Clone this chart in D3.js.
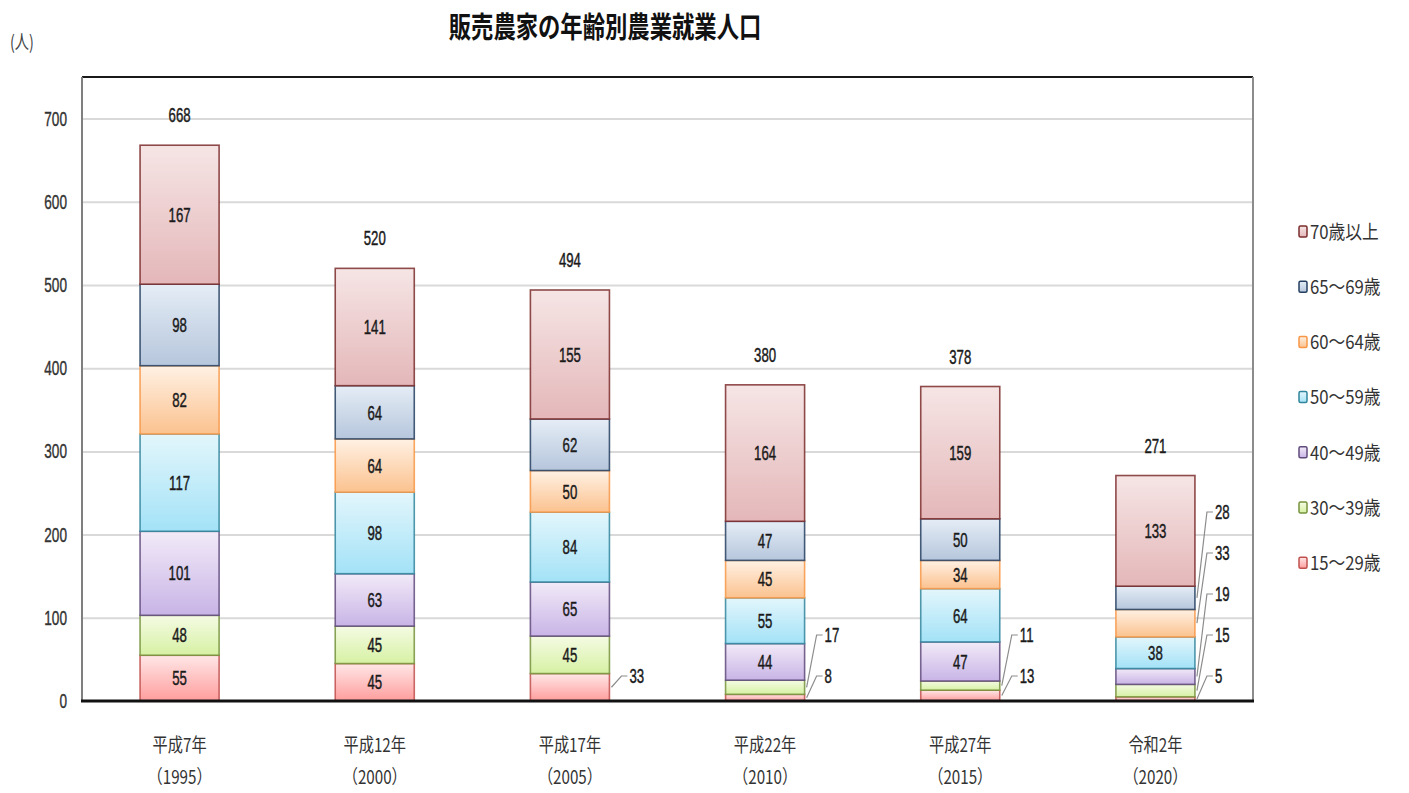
<!DOCTYPE html>
<html>
<head>
<meta charset="utf-8">
<script src="https://cdn.jsdelivr.net/npm/d3@7"></script>
<style>
  body { margin: 0; background: #fff; }
  text { font-family: "Liberation Sans", "Noto Sans CJK JP", sans-serif; }
  .jp { font-family: "Noto Sans CJK JP", sans-serif; }
  .num { stroke: #1a1a1a; stroke-width: 0.45; }
</style>
</head>
<body>
<div class="chart"></div>
<script>
var w = 1409;
var h = 793;

// data
const categories = ["平成7年", "平成12年", "平成17年", "平成22年", "平成27年", "令和2年"];
const yearLabels = ["（1995）", "（2000）", "（2005）", "（2010）", "（2015）", "（2020）"];
const ageGroups = ["15～29歳", "30～39歳", "40～49歳", "50～59歳", "60～64歳", "65～69歳", "70歳以上"];

const age15_29 = [55, 45, 33, 8, 13, 5];
const age30_39 = [48, 45, 45, 17, 11, 15];
const age40_49 = [101, 63, 65, 44, 47, 19];
const age50_59 = [117, 98, 84, 55, 64, 38];
const age60_64 = [82, 64, 50, 45, 34, 33];
const age65_69 = [98, 64, 62, 47, 50, 28];
const age70plus = [167, 141, 155, 164, 159, 133];

// which segments carry their label outside the bar (index into ageGroups)
const outsideLabels = [[], [], [0], [0, 1], [0, 1], [0, 1, 2, 4, 5]];

const yTicks = [0, 100, 200, 300, 400, 500, 600, 700];

const series = [age15_29, age30_39, age40_49, age50_59, age60_64, age65_69, age70plus];

// gradient top, gradient bottom, edge
const palette = [
  ["#ffe7e7", "#ff9d9d", "#c0504d"],
  ["#f5fbe4", "#d6f1a3", "#76923c"],
  ["#f2eaf8", "#c8b4e6", "#604a7b"],
  ["#e3f6fc", "#a3e2f7", "#31859c"],
  ["#fff1e4", "#fbc28f", "#f79646"],
  ["#e5edf6", "#b6c6dc", "#243f60"],
  ["#f6e5e5", "#e4b7b9", "#7b2c2c"]
];

const table = categories.map((c, i) => {
  const row = {cat: c};
  ageGroups.forEach((g, k) => { row[g] = series[k][i]; });
  return row;
});
const stacked = d3.stack().keys(ageGroups)(table);

const pLeft = 82, pRight = 1253, pTop = 77, pBottom = 701;

const svg = d3.select(".chart").append("svg")
  .attr("width", w)
  .attr("height", h);

const x = d3.scaleBand()
  .domain(categories)
  .range([pLeft, pRight])
  .paddingInner(0.595)
  .paddingOuter(0.2975);

const y = d3.scaleLinear()
  .domain([0, 750])
  .range([pBottom, pTop]);

// horizontally condensed text, like the original
function squish(sel, px, py, sx) {
  return sel.attr("transform", "translate(" + px + "," + py + ") scale(" + sx + ",1)");
}

const defs = svg.append("defs");
palette.forEach((p, k) => {
  const g = defs.append("linearGradient")
    .attr("id", "grad" + k)
    .attr("x1", 0).attr("y1", 0).attr("x2", 0).attr("y2", 1);
  g.append("stop").attr("offset", "0%").attr("stop-color", p[0]);
  g.append("stop").attr("offset", "100%").attr("stop-color", p[1]);
});

// title
squish(svg.append("text").attr("class", "jp"), 605, 38, 0.77)
  .attr("text-anchor", "middle")
  .attr("font-size", 29)
  .attr("font-weight", "bold")
  .attr("fill", "#111")
  .text("販売農家の年齢別農業就業人口");

squish(svg.append("text").attr("class", "jp"), 10, 49, 0.75)
  .attr("font-size", 19)
  .attr("fill", "#444")
  .text("(人)");

// gridlines
const grid = svg.append("g")
  .attr("transform", "translate(" + pLeft + ",0)")
  .call(d3.axisLeft(y).tickValues(yTicks.slice(1)).tickSize(-(pRight - pLeft)).tickFormat(""));
grid.select(".domain").remove();
grid.selectAll("line").attr("stroke", "#d9d9d9").attr("stroke-width", 2);

// frame
svg.append("line").attr("x1", pLeft).attr("x2", pRight).attr("y1", pTop).attr("y2", pTop)
  .attr("stroke", "#1a1a1a").attr("stroke-width", 2);
svg.append("line").attr("x1", pRight).attr("x2", pRight).attr("y1", pTop).attr("y2", pBottom)
  .attr("stroke", "#8c8c8c").attr("stroke-width", 2);
svg.append("line").attr("x1", pLeft).attr("x2", pLeft).attr("y1", pTop).attr("y2", pBottom)
  .attr("stroke", "#7f7f7f").attr("stroke-width", 2);

// y axis labels
const yAxis = svg.append("g")
  .attr("transform", "translate(" + pLeft + ",0)")
  .call(d3.axisLeft(y).tickValues(yTicks).tickSize(0));
yAxis.select(".domain").remove();
yAxis.selectAll("text")
  .attr("x", -15 / 0.68)
  .attr("transform", "scale(0.68,1)")
  .attr("font-size", 20)
  .attr("fill", "#333")
  .attr("stroke", "#333")
  .attr("stroke-width", 0.4);

// bars
const bars = svg.append("g");
stacked.forEach((layer, k) => {
  bars.selectAll(".seg" + k)
    .data(layer)
    .enter()
    .append("rect")
    .attr("class", "seg" + k)
    .attr("x", d => x(d.data.cat))
    .attr("y", d => y(d[1]))
    .attr("width", x.bandwidth())
    .attr("height", d => y(d[0]) - y(d[1]))
    .attr("fill", "url(#grad" + k + ")")
    .attr("stroke", palette[k][2])
    .attr("stroke-opacity", 0.85)
    .attr("stroke-width", 1.6);
});

// labels inside segments
stacked.forEach((layer, k) => {
  layer.forEach((d, i) => {
    if (outsideLabels[i].indexOf(k) >= 0) return;
    const cx = x(d.data.cat) + x.bandwidth() / 2;
    const cy = (y(d[0]) + y(d[1])) / 2;
    squish(svg.append("text").attr("class", "num"), cx, cy, 0.66)
      .attr("dy", "0.36em")
      .attr("text-anchor", "middle")
      .attr("font-size", 20)
      .attr("fill", "#1a1a1a")
      .text(d[1] - d[0]);
  });
});

// outside labels with leader lines
categories.forEach((c, i) => {
  const bx = x(c) + x.bandwidth();
  outsideLabels[i].forEach((k, slot) => {
    const d = stacked[k][i];
    const sy = (y(d[0]) + y(d[1])) / 2;
    const ly = y(0) - 25 - slot * 41;
    svg.append("path")
      .attr("d", "M" + (bx + 2) + "," + sy + "L" + (bx + 12) + "," + ly + "L" + (bx + 18) + "," + ly)
      .attr("fill", "none")
      .attr("stroke", "#8c8c8c")
      .attr("stroke-width", 1.2);
    squish(svg.append("text").attr("class", "num"), bx + 20, ly, 0.66)
      .attr("dy", "0.36em")
      .attr("font-size", 20)
      .attr("fill", "#1a1a1a")
      .text(series[k][i]);
  });
});

// totals above bars
categories.forEach((c, i) => {
  const total = d3.sum(series, s => s[i]);
  squish(svg.append("text").attr("class", "num"), x(c) + x.bandwidth() / 2, y(total) - 23, 0.66)
    .attr("text-anchor", "middle")
    .attr("font-size", 20)
    .attr("fill", "#1a1a1a")
    .text(total);
});

// bottom axis
svg.append("line").attr("x1", pLeft - 1).attr("x2", pRight + 1).attr("y1", pBottom).attr("y2", pBottom)
  .attr("stroke", "#111").attr("stroke-width", 3);

const xAxis = svg.append("g")
  .attr("transform", "translate(0," + pBottom + ")")
  .call(d3.axisBottom(x).tickSize(0).tickFormat(""));
xAxis.select(".domain").remove();
xAxis.selectAll(".tick").each(function(c, i) {
  const t = d3.select(this).append("text")
    .attr("class", "jp")
    .attr("text-anchor", "middle")
    .attr("transform", "scale(0.8,1)")
    .attr("font-size", 19)
    .attr("fill", "#333");
  t.append("tspan").attr("x", 0).attr("y", 51).text(c);
  t.append("tspan").attr("x", 0).attr("y", 83).text(yearLabels[i]);
});

// legend
const legend = svg.append("g");
ageGroups.slice().reverse().forEach((g, j) => {
  const k = ageGroups.length - 1 - j;
  const ly = 232 + j * 55.2;
  legend.append("rect")
    .attr("x", 1299).attr("y", ly - 6)
    .attr("width", 8).attr("height", 11)
    .attr("rx", 1.5)
    .attr("fill", "url(#grad" + k + ")")
    .attr("stroke", palette[k][2])
    .attr("stroke-width", 1.5);
  squish(legend.append("text").attr("class", "jp"), 1310, ly, 0.88)
    .attr("dy", "0.36em")
    .attr("font-size", 19)
    .attr("fill", "#333")
    .text(g);
});
</script>
</body>
</html>
